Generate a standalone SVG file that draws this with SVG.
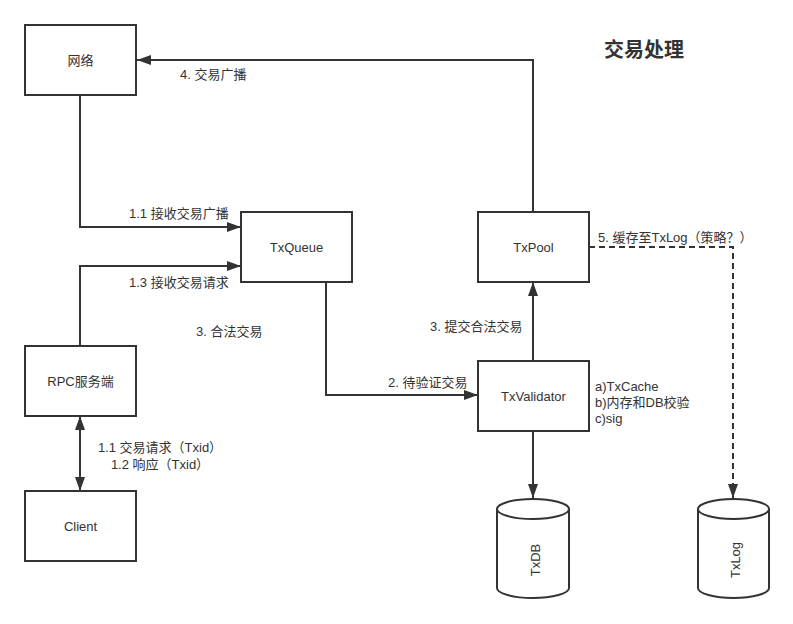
<svg xmlns="http://www.w3.org/2000/svg" width="793" height="624" viewBox="0 0 793 624">
<defs>
<style>
.box{fill:#fff;stroke:#333;stroke-width:2}
.t{font-family:"Liberation Sans","Noto Sans CJK SC",sans-serif;font-size:13px;fill:#333;dominant-baseline:central}
.c{text-anchor:middle}
.ln{fill:none;stroke:#333;stroke-width:2}
.dash{stroke-dasharray:6,4}
.title{font-family:"Liberation Sans","Noto Sans CJK SC",sans-serif;font-size:20px;font-weight:bold;fill:#333;dominant-baseline:central}
</style>
<marker id="arr" viewBox="0 0 14 10" refX="14" refY="5" markerWidth="14" markerHeight="10" markerUnits="userSpaceOnUse" orient="auto-start-reverse">
<path d="M0,0 L14,5 L0,10 Z" fill="#333"/>
</marker>
</defs>
<rect width="793" height="624" fill="#fff"/>
<text class="title" x="604" y="50">交易处理</text>
<g id="connectors">
<path class="ln" d="M533,212 V60 H137" marker-end="url(#arr)"/>
<path class="ln" d="M80,95 V227 H241" marker-end="url(#arr)"/>
<path class="ln" d="M80,345 V266 H241" marker-end="url(#arr)"/>
<path class="ln" d="M326,282 V395 H478" marker-end="url(#arr)"/>
<path class="ln" d="M533,361 V282" marker-end="url(#arr)"/>
<path class="ln" d="M533,431 V498" marker-end="url(#arr)"/>
<path class="ln" d="M80,416 V491" marker-start="url(#arr)" marker-end="url(#arr)"/>
<path class="ln dash" d="M589,247 H733 V498" marker-end="url(#arr)"/>
<text class="t" x="180" y="74">4. 交易广播</text>
<text class="t" x="129" y="213">1.1 接收交易广播</text>
<text class="t" x="129" y="282">1.3 接收交易请求</text>
<text class="t" x="196" y="331">3. 合法交易</text>
<text class="t" x="388" y="382">2. 待验证交易</text>
<text class="t" x="430" y="326">3. 提交合法交易</text>
<text class="t" x="598" y="237">5. 缓存至TxLog（策略？）</text>
<text class="t c" x="160" y="447">1.1 交易请求（Txid）</text>
<text class="t c" x="160" y="464">1.2 响应（Txid）</text>
</g>
<g id="net"><rect class="box" x="25" y="25" width="111" height="70"/><text class="t c" x="80.5" y="60">网络</text></g>
<g id="txqueue"><rect class="box" x="241" y="212" width="111" height="70"/><text class="t c" x="296.5" y="247">TxQueue</text></g>
<g id="txpool"><rect class="box" x="478" y="212" width="111" height="70"/><text class="t c" x="533.5" y="247">TxPool</text></g>
<g id="txvalidator"><rect class="box" x="478" y="361" width="111" height="70"/><text class="t c" x="533.5" y="396">TxValidator</text>
<text class="t" x="595" y="386">a)TxCache</text>
<text class="t" x="595" y="402">b)内存和DB校验</text>
<text class="t" x="595" y="418">c)sig</text></g>
<g id="rpc"><rect class="box" x="25" y="346" width="111" height="70"/><text class="t c" x="80.5" y="381">RPC服务端</text></g>
<g id="client"><rect class="box" x="25" y="491" width="111" height="70"/><text class="t c" x="80.5" y="526">Client</text></g>
<g id="txdb">
<path class="box" d="M497,509 A36,10 0 0 1 569,509 V588 A36,10 0 0 1 497,588 Z"/>
<path class="ln" d="M497,509 A36,10 0 0 0 569,509"/>
<text class="t c" transform="translate(535,560) rotate(-90)" x="0" y="0">TxDB</text>
</g>
<g id="txlog">
<path class="box" d="M698,509 A35.5,10 0 0 1 769,509 V588 A35.5,10 0 0 1 698,588 Z"/>
<path class="ln" d="M698,509 A35.5,10 0 0 0 769,509"/>
<text class="t c" transform="translate(735,560) rotate(-90)" x="0" y="0">TxLog</text>
</g>
</svg>
